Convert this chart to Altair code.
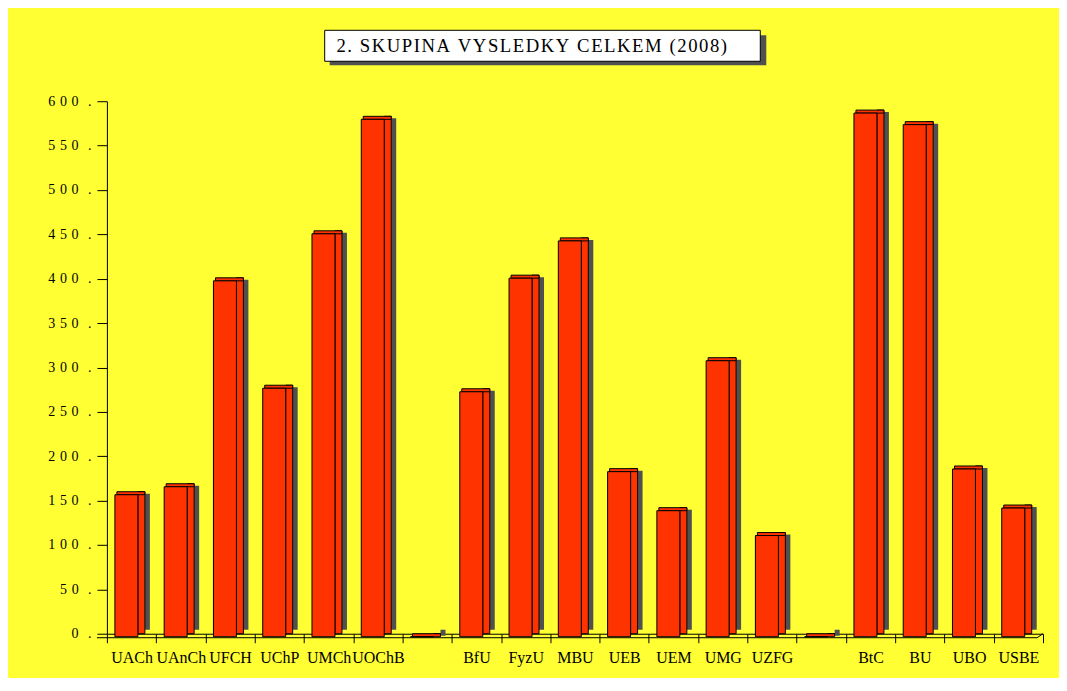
import altair as alt
import pandas as pd

categories = ["UACh", "UAnCh", "UFCH", "UChP", "UMCh", "UOChB", " ",
              "BfU", "FyzU", "MBU", "UEB", "UEM", "UMG", "UZFG", "  ",
              "BtC", "BU", "UBO", "USBE"]
values = [160, 169, 401, 280, 454, 583, 0,
          276, 404, 446, 186, 142, 311, 114, 0,
          590, 577, 189, 145]
y_ticks = [0, 50, 100, 150, 200, 250, 300, 350, 400, 450, 500, 550, 600]
title_text = "2. SKUPINA VYSLEDKY CELKEM (2008)"

df = pd.DataFrame({"cat": categories, "val": values})
tdf = pd.DataFrame({"t": ["\u200a".join(title_text)]})
one = pd.DataFrame({"k": [1]})

W, H = 937, 533
RED = "#FF3300"
SERIF = "Liberation Serif"

xs = alt.Scale(paddingInner=0, paddingOuter=0)
ys = alt.Scale(domain=[0, 600], nice=False)

x_axis = alt.Axis(title=None, labelAngle=0, labelFont=SERIF, labelFontSize=16,
                  labelColor="black", tickBand="extent", tickSize=9, tickColor="black",
                  domainColor="black", labelPadding=7, labelOverlap=False, grid=False)
y_axis = alt.Axis(title=None, values=y_ticks, grid=False, labelFont=SERIF, labelFontSize=14,
                  labelColor="black", tickSize=10, tickColor="black", domainColor="black",
                  labelPadding=6,
                  labelExpr="join(split(datum.label, ''), '\u2004') + '\u2004\u2004.'")


def X():
    return alt.X("cat:N", sort=categories, scale=xs, axis=x_axis)


def Y():
    return alt.Y("val:Q", scale=ys, axis=y_axis)


base = alt.Chart(df)

shadow = base.mark_bar(width=5, xOffset=15.85, yOffset=2, color="#505050").encode(
    x=X(), y=Y(), y2=alt.datum(4.5),
)
side = base.mark_bar(width=7, xOffset=9.85, fill=RED, stroke="black", strokeWidth=1).encode(
    x=X(), y=Y(),
)
cap = base.mark_tick(size=28, thickness=3, xOffset=-0.65, yOffset=1.5, fill=RED,
                     stroke="black", strokeWidth=1, opacity=1, filled=True).encode(
    x=X(), y=Y(),
)
front = base.mark_bar(width=23, xOffset=-5.15, yOffset=3, fill=RED, stroke="black",
                      strokeWidth=1).encode(
    x=X(), y=Y(),
)

floor_front = alt.Chart(one).mark_rule(color="black", strokeWidth=1).encode(
    x=alt.value(-10), x2=alt.value(931), y=alt.value(537))
floor_right = alt.Chart(one).mark_rule(color="black", strokeWidth=1).encode(
    x=alt.value(931), x2=alt.value(937), y=alt.value(537), y2=alt.value(533))

title_shadow = alt.Chart(one).mark_rect(color="#505050").encode(
    x=alt.value(223), x2=alt.value(660), y=alt.value(-66), y2=alt.value(-36))
title_box = alt.Chart(one).mark_rect(fill="white", stroke="black", strokeWidth=1).encode(
    x=alt.value(218), x2=alt.value(654), y=alt.value(-71), y2=alt.value(-40))
title_txt = alt.Chart(tdf).mark_text(align="left", baseline="middle", font=SERIF,
                                     fontSize=18.7, color="black").encode(
    x=alt.value(229.7), y=alt.value(-55), text="t:N")

chart = alt.layer(
    shadow, side, cap, front, floor_front, floor_right,
    title_shadow, title_box, title_txt
).properties(
    width=W, height=H, background="#FFFF33",
    padding={"left": 99, "top": 93, "right": 16, "bottom": 44},
    autosize=alt.AutoSizeParams(type="none"),
).configure_view(stroke=None)

chart.save("out.html", embed_options={"renderer": "svg", "actions": False})
